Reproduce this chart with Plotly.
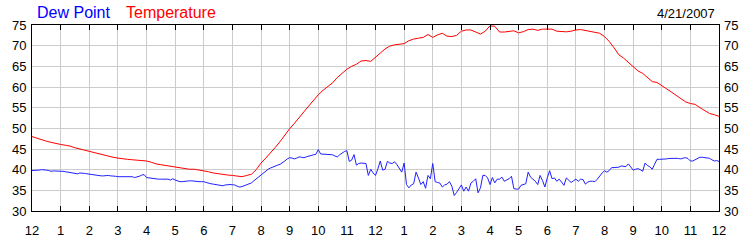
import plotly.graph_objects as go

# ---------------- data ----------------
hour_labels = ["12", "1", "2", "3", "4", "5", "6", "7", "8", "9", "10", "11",
               "12", "1", "2", "3", "4", "5", "6", "7", "8", "9", "10", "11", "12"]
hour_ticks = list(range(25))

# temperature, every 10 minutes (6 per hour) from 0:00 to 24:00
temperature = [
    48.0, 47.6, 47.2, 46.9, 46.6, 46.3,
    46.1, 45.9, 45.7, 45.3, 45.0, 44.7,
    44.4, 44.1, 43.8, 43.5, 43.2, 43.0,
    42.8, 42.6, 42.5, 42.4, 42.3, 42.3,
    42.1, 41.8, 41.4, 41.2, 41.0, 40.9,
    40.7, 40.5, 40.2, 40.1, 40.1, 39.9,
    39.8, 39.5, 39.2, 39.0, 38.9, 38.7,
    38.6, 38.4, 38.3, 38.6, 38.9, 40.0,
    41.6, 42.8, 44.0, 45.4, 46.8, 48.4,
    49.9, 51.2, 52.5, 54.0, 55.4, 56.8,
    58.1, 59.2, 60.1, 61.0, 62.3, 63.4,
    64.3, 65.0, 65.5, 66.3, 66.4, 66.2,
    67.3, 68.2, 69.2, 69.9, 70.2, 70.4,
    70.5, 71.2, 71.6, 71.8, 72.0, 72.7,
    72.0, 72.6, 73.0, 72.3, 72.2, 72.5,
    73.5, 73.8, 73.8, 73.3, 72.8, 73.5,
    74.8, 74.7, 73.3, 73.3, 73.5, 73.6,
    73.1, 73.4, 73.9, 74.0, 73.7, 74.0,
    74.0, 74.0, 73.5, 73.35, 73.35, 73.5,
    73.8, 73.9, 73.65, 73.5, 73.3, 73.0,
    72.2, 71.0, 69.5, 67.8, 67.0, 66.0,
    64.8, 63.9, 63.3, 62.4, 61.3, 61.1,
    60.4, 59.6, 58.8, 58.0, 57.3, 56.4,
    56.0, 55.8, 55.0, 54.4, 53.6, 53.3,
    52.9,
]
temp_hours = [i / 6 for i in range(len(temperature))]

# dew point, every 5 minutes (12 per hour) from 0:00 to 24:00
dew_point = [
    39.8, 39.8, 39.9, 39.9, 40.0, 40.0, 39.9, 39.8, 39.6, 39.7, 39.7, 39.6,
    39.6, 39.6, 39.5, 39.4, 39.3, 39.2, 39.1, 39.0, 39.2, 39.2, 39.1, 39.0,
    38.9, 38.9, 38.8, 38.7, 38.6, 38.5, 38.5, 38.6, 38.6, 38.5, 38.5, 38.4,
    38.3, 38.3, 38.4, 38.4, 38.4, 38.3, 38.3, 38.1, 38.2, 38.4, 38.7, 38.8,
    38.1, 38.0, 37.9, 37.8, 37.8, 37.7, 37.7, 37.7, 37.8, 37.7, 37.5, 37.8,
    37.5, 37.3, 37.1, 37.1, 37.2, 37.3, 37.3, 37.3, 37.2, 37.1, 37.1, 37.1,
    37.1, 36.9, 36.7, 36.6, 36.5, 36.4, 36.3, 36.2, 36.1, 36.3, 36.4, 36.4,
    36.35, 36.3, 36.0, 35.8, 35.9, 36.1, 36.4, 36.6, 36.8, 37.3, 37.8, 38.2,
    38.6, 39.2, 39.7, 40.1, 40.4, 40.7, 40.9, 41.1, 41.3, 41.6, 42.1, 42.6,
    42.9, 42.8, 42.6, 42.8, 43.1, 43.0, 42.9, 43.1, 43.3, 43.4, 43.6, 43.7,
    44.85, 43.8, 43.75, 43.7, 43.75, 43.75, 43.6, 43.3, 43.1, 43.6, 44.1, 44.4,
    44.6, 42.0, 42.3, 43.65, 41.1, 41.5, 41.6, 41.5, 41.5, 38.6, 40.1, 39.2,
    38.6, 40.2, 42.1, 39.9, 40.1, 42.0, 41.6, 41.5, 41.9, 41.2, 40.4, 39.4,
    41.6, 36.4, 35.6, 36.3, 36.6, 39.4, 38.0, 36.4, 37.1, 35.5, 38.6, 37.8,
    41.5, 37.1, 36.9, 36.75, 35.8, 36.3, 36.5, 37.1, 36.0, 33.75, 34.5, 35.5,
    36.3, 34.8, 35.8, 34.8, 36.75, 37.2, 37.8, 34.4, 35.6, 38.6, 38.6, 38.0,
    36.4, 38.1, 36.8, 37.7, 37.7, 38.2, 37.2, 37.5, 37.8, 38.4, 35.4, 35.3,
    35.3, 36.2, 36.4, 36.6, 39.4, 38.2, 37.7, 37.2, 36.4, 38.6, 37.4, 35.8,
    38.0, 39.75, 37.8, 38.0, 37.2, 37.7, 37.0, 36.2, 38.0, 37.4, 36.9, 37.3,
    37.7, 37.2, 37.7, 37.6, 36.5, 37.0, 37.2, 37.2, 37.1, 37.7, 38.6, 39.2,
    39.75, 39.4, 39.8, 40.5, 40.5, 40.6, 40.6, 40.9, 40.8, 40.75, 41.4, 40.6,
    39.9, 40.1, 40.25, 40.0, 39.6, 41.6, 41.0, 40.7, 40.1, 41.3, 42.5, 42.5,
    42.5, 42.6, 42.6, 42.7, 42.75, 42.75, 42.75, 42.7, 42.6, 42.8, 42.9, 42.7,
    42.1, 42.1, 42.4, 42.6, 43.0, 43.0, 42.9, 42.9, 42.75, 42.4, 42.1, 42.2,
    42.0,
]
dew_hours = [i / 12 for i in range(len(dew_point))]

y_ticks = [30, 35, 40, 45, 50, 55, 60, 65, 70, 75]
date_label = "4/21/2007"

# ---------------- figure ----------------
FONT = "Liberation Sans, Arial, sans-serif"
fig = go.Figure()
fig.add_trace(go.Scatter(x=temp_hours, y=temperature, mode="lines", name="Temperature",
                         line=dict(color="#ff0000", width=1), showlegend=False))
fig.add_trace(go.Scatter(x=dew_hours, y=dew_point, mode="lines", name="Dew Point",
                         line=dict(color="#2020ff", width=1), showlegend=False, yaxis="y2"))

fig.update_layout(
    width=750, height=250,
    margin=dict(l=30, r=29, t=25, b=25),
    paper_bgcolor="white", plot_bgcolor="white",
    font=dict(family=FONT, size=13, color="black"),
    xaxis=dict(range=[0, 24], tickvals=hour_ticks, ticktext=hour_labels,
               showgrid=True, gridcolor="#cccccc", gridwidth=1,
               showline=True, linecolor="black", linewidth=1, mirror="ticks",
               ticks="inside", ticklen=5, tickcolor="black", tickwidth=1,
               zeroline=False, ticklabelstandoff=7,
               tickfont=dict(family=FONT, size=13, color="black")),
    yaxis=dict(range=[30, 75], tickvals=y_ticks, showgrid=True, gridcolor="#cccccc",
               showline=True, linecolor="black", linewidth=1, mirror=True,
               ticks="", zeroline=False, ticklabelstandoff=2,
               tickfont=dict(family=FONT, size=13, color="black")),
    yaxis2=dict(range=[30, 75], tickvals=y_ticks, overlaying="y", side="right",
                showgrid=False, showline=False, ticks="", zeroline=False,
                ticklabelstandoff=4,
                tickfont=dict(family=FONT, size=13, color="black")),
    annotations=[
        dict(text="Dew Point", x=(33 - 30) / 691, y=(225 - 12) / 200, xref="paper", yref="paper",
             xanchor="left", yanchor="middle", showarrow=False,
             font=dict(family=FONT, size=16, color="#0000ff")),
        dict(text="Temperature", x=(123 - 30) / 691, y=(225 - 12) / 200, xref="paper", yref="paper",
             xanchor="left", yanchor="middle", showarrow=False,
             font=dict(family=FONT, size=16, color="#ff0000")),
        dict(text=date_label, x=(719 - 30) / 691, y=(225 - 13) / 200, xref="paper", yref="paper",
             xanchor="right", yanchor="middle", showarrow=False,
             font=dict(family=FONT, size=13, color="black")),
    ],
)

fig.write_html("out.html")
